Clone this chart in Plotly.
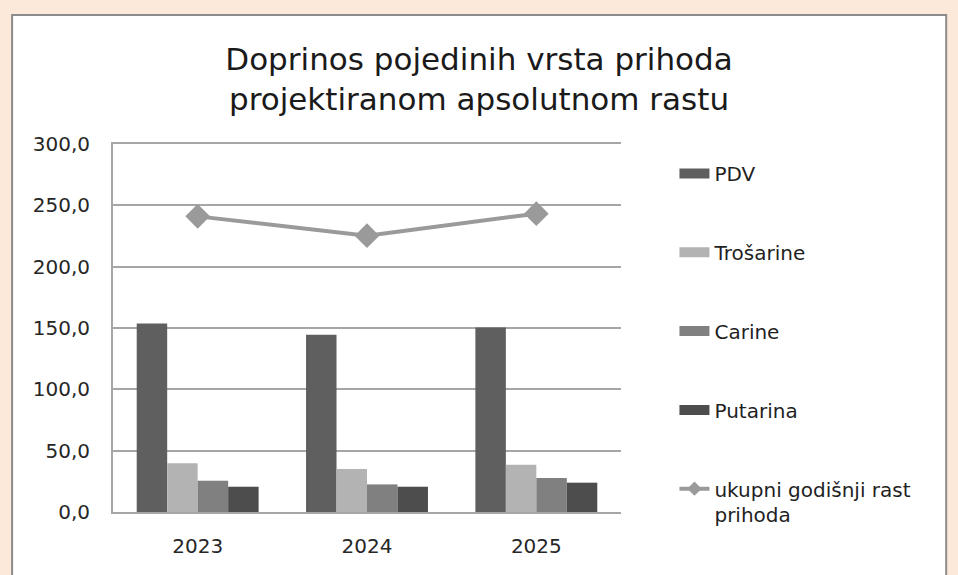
import plotly.graph_objects as go

years = ["2023", "2024", "2025"]
pdv = [153.7, 144.4, 150.4]
trosarine = [39.7, 35.0, 38.5]
carine = [25.5, 22.5, 27.7]
putarina = [20.6, 20.6, 23.9]
ukupno = [241.0, 225.3, 243.2]

series_names = ["PDV", "Trošarine", "Carine", "Putarina"]
series_values = [pdv, trosarine, carine, putarina]
series_colors = ["#5f5f5f", "#b3b3b3", "#808080", "#4d4d4d"]
line_name = "ukupni godišnji rast<br>prihoda"
line_color = "#9a9a9a"

y_ticks = [0, 50, 100, 150, 200, 250, 300]

W, H = 958, 575
L, R, T, B = 113, 336.5, 144, 63
pw = W - L - R
ph = H - T - B


def px_x(p):
    return (p - L) / pw


def px_y(p):
    return (H - B - p) / ph


fig = go.Figure()

for name, vals, col in zip(series_names, series_values, series_colors):
    fig.add_trace(go.Bar(x=years, y=vals, name=name, marker=dict(color=col, line=dict(width=0)),
                         showlegend=False))

fig.add_trace(go.Scatter(x=years, y=ukupno, mode="lines+markers", name=line_name,
                         line=dict(color=line_color, width=4),
                         marker=dict(symbol="diamond", size=19, color=line_color),
                         showlegend=False))

# legend proxies
for i, (name, col) in enumerate(zip(series_names, series_colors)):
    fig.add_trace(go.Scatter(x=[None], y=[None], mode="lines", name=name,
                             line=dict(color=col, width=12), legendgroup=f"g{i}"))
fig.add_trace(go.Scatter(x=[None], y=[None], mode="lines+markers", name=line_name,
                         line=dict(color=line_color, width=4),
                         marker=dict(symbol="diamond", size=11, color=line_color),
                         legendgroup="g9"))

fig.add_shape(type="rect", xref="paper", yref="paper",
              x0=px_x(12), x1=px_x(947), y0=px_y(600), y1=px_y(15),
              fillcolor="white", line=dict(color="#8c8c8c", width=2), layer="below")

tick_font = dict(family="DejaVu Sans", size=20, color="#262626")

fig.update_layout(
    width=W, height=H,
    margin=dict(l=L, r=R, t=T, b=B, autoexpand=False),
    paper_bgcolor="#fde9da",
    plot_bgcolor="white",
    separators=",.",
    barmode="group",
    bargap=0.28,
    bargroupgap=0,
    font=dict(family="DejaVu Sans", size=18, color="#262626"),
    title=dict(text="Doprinos pojedinih vrsta prihoda<br>projektiranom apsolutnom rastu",
               x=0.5, xref="container", xanchor="center",
               y=1 - 70 / H, yref="container", yanchor="top",
               font=dict(family="DejaVu Sans", size=31, color="#1a1a1a")),
    legend=dict(x=px_x(675), y=px_y(154), xanchor="left", yanchor="top",
                xref="paper", yref="paper", bgcolor="rgba(0,0,0,0)", maxheight=800,
                tracegroupgap=49.8, valign="top",
                font=dict(family="DejaVu Sans", size=20, color="#1f1f1f")),
    xaxis=dict(type="category", showline=True, linecolor="#a6a6a6", linewidth=2, mirror=True,
               ticks="outside", ticklen=15, tickcolor="rgba(0,0,0,0)",
               showgrid=False, tickfont=tick_font),
    yaxis=dict(range=[0, 300], tickvals=y_ticks, tickformat=".1f", showline=True,
               linecolor="#a6a6a6", linewidth=2, gridcolor="#a6a6a6", gridwidth=1.5,
               zeroline=False, ticks="", ticklabelstandoff=17, tickfont=tick_font),
)

fig.write_html("out.html", config={"displayModeBar": False},
               post_script="document.body.style.margin='0px';")
